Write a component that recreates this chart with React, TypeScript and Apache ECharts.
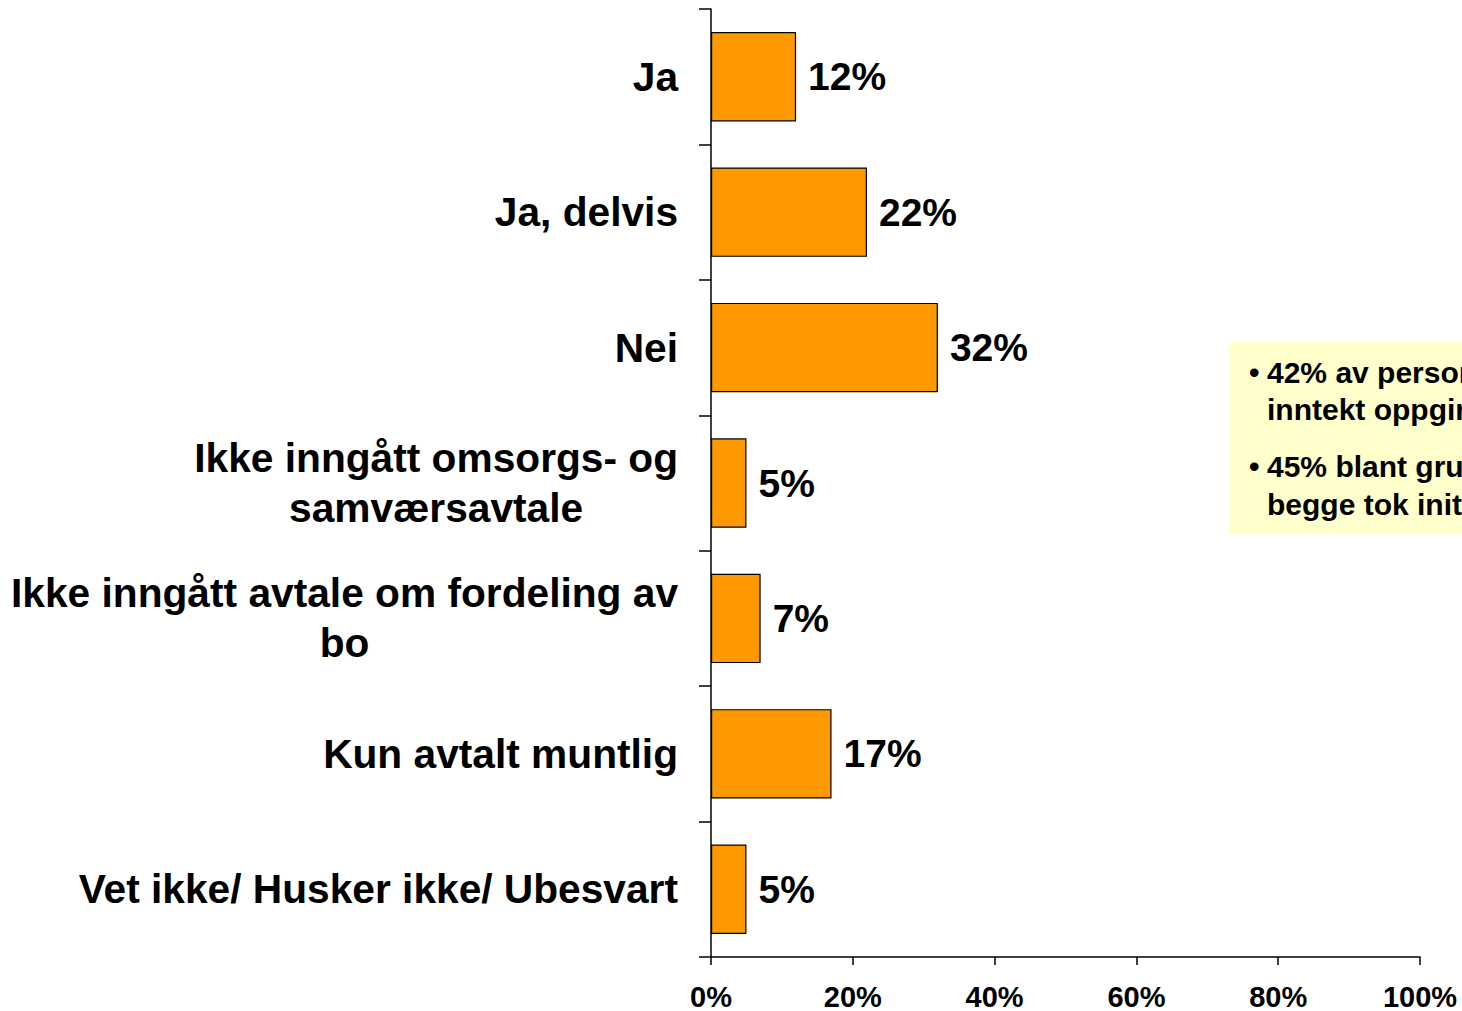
import React, { useEffect, useRef } from "react";
import * as echarts from "echarts";

const categories = [
  "Ja",
  "Ja, delvis",
  "Nei",
  "Ikke inngått omsorgs- og\nsamværsavtale",
  "Ikke inngått avtale om fordeling av\nbo",
  "Kun avtalt muntlig",
  "Vet ikke/ Husker ikke/ Ubesvart",
];
const values = [12, 22, 32, 5, 7, 17, 5];
const xTicks = [0, 20, 40, 60, 80, 100];
const noteLines = [
  { bullet: true, text: "42% av personer med" },
  { bullet: false, text: "inntekt oppgir" },
  { bullet: true, text: "45% blant gruppen der" },
  { bullet: false, text: "begge tok initiativ" },
];

const FONT = "Arial";

export default function App() {
  const ref = useRef<HTMLDivElement>(null);
  useEffect(() => {
    if (!ref.current) return;
    const chart = echarts.init(ref.current, null, { renderer: "svg" });
    const lineY = [372, 409, 466, 504];
    const noteGraphics: any[] = [
      {
        type: "rect",
        shape: { x: 1230, y: 342, width: 260, height: 191 },
        style: { fill: "#FFFFCC" },
        z: 10,
      },
    ];
    noteLines.forEach((l, i) => {
      if (l.bullet) {
        noteGraphics.push({
          type: "text",
          x: 1249,
          y: lineY[i],
          style: {
            text: "•",
            fontFamily: FONT,
            fontWeight: "bold",
            fontSize: 30,
            fill: "#000",
            verticalAlign: "middle",
            align: "left",
          },
          z: 11,
        });
      }
      noteGraphics.push({
        type: "text",
        x: 1267,
        y: lineY[i],
        style: {
          text: l.text,
          fontFamily: FONT,
          fontWeight: "bold",
          fontSize: 30,
          fill: "#000",
          verticalAlign: "middle",
          align: "left",
        },
        z: 11,
      });
    });

    chart.setOption({
      animation: false,
      backgroundColor: "#ffffff",
      grid: {
        left: 711,
        right: 42,
        top: 9,
        bottom: 54,
        containLabel: false,
        outerBoundsMode: "none",
      },
      xAxis: {
        type: "value",
        min: 0,
        max: 100,
        interval: 20,
        splitLine: { show: false },
        axisLine: { show: true, lineStyle: { color: "#000", width: 1.5 } },
        axisTick: { show: true, length: 8, lineStyle: { color: "#000", width: 1.5 } },
        axisLabel: {
          margin: 25,
          formatter: (v: number) => (xTicks.includes(v) ? `${v}%` : ""),
          fontFamily: FONT,
          fontWeight: "bold",
          fontSize: 29,
          lineHeight: 29,
          color: "#000",
        },
      },
      yAxis: {
        type: "category",
        data: categories,
        inverse: true,
        axisLine: { show: true, lineStyle: { color: "#000", width: 1.5 } },
        axisTick: { show: true, length: 12, lineStyle: { color: "#000", width: 1.5 } },
        axisLabel: {
          margin: 33,
          interval: 0,
          formatter: (v: string) =>
            v
              .split("\n")
              .map((s) => `{c|${s}}`)
              .join("\n"),
          rich: {
            c: {
              align: "center",
              fontFamily: FONT,
              fontWeight: "bold",
              fontSize: 40.7,
              lineHeight: 50,
              color: "#000",
            },
          },
        },
      },
      series: [
        {
          type: "bar",
          data: values,
          barCategoryGap: "34%",
          itemStyle: { color: "#FF9900", borderColor: "#000", borderWidth: 1.2 },
          label: {
            show: true,
            position: "right",
            distance: 12,
            formatter: (p: any) => `${p.value}%`,
            fontFamily: FONT,
            fontWeight: "bold",
            fontSize: 39,
            color: "#000",
          },
        },
      ],
      graphic: noteGraphics,
    });
    return () => chart.dispose();
  }, []);
  return (
    <div
      ref={ref}
      style={{ position: "absolute", left: 0, top: 0, width: 1462, height: 1011 }}
    />
  );
}
